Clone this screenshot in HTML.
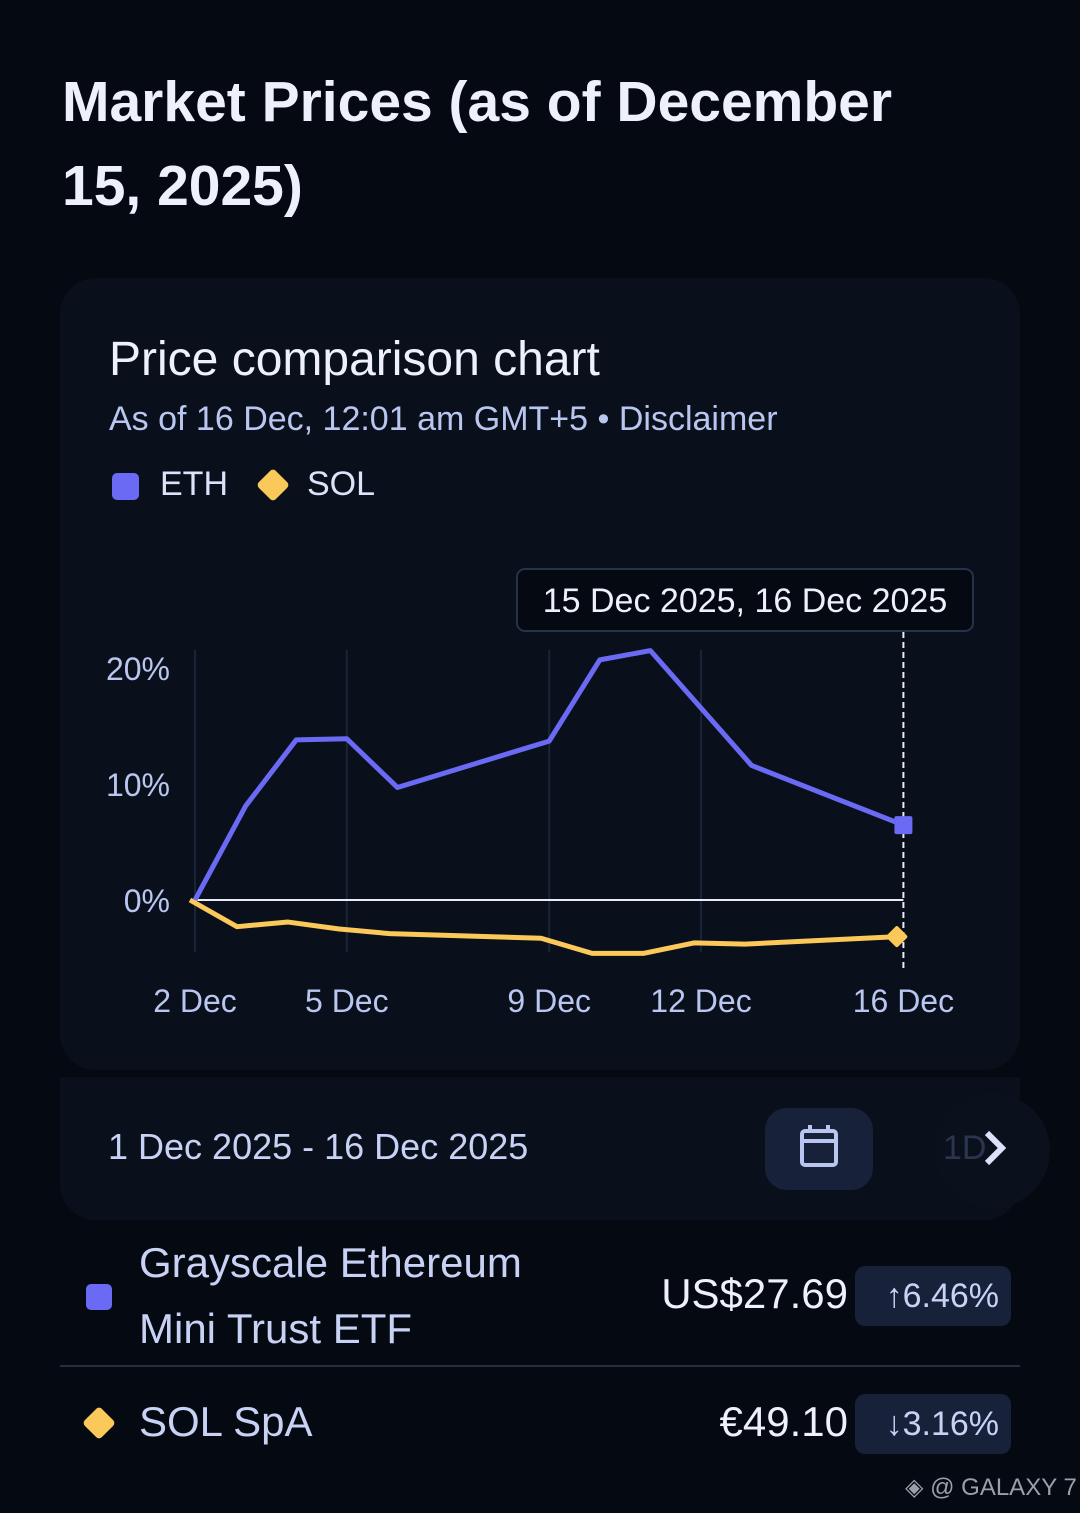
<!DOCTYPE html>
<html><head><meta charset="utf-8"><style>
body{margin:0;width:1080px;height:1513px;background:#050911;font-family:"Liberation Sans",sans-serif;color:#c7d2f5;position:relative;overflow:hidden}
.abs{position:absolute}
h1{position:absolute;left:62px;top:60px;margin:0;font-size:57px;line-height:84px;font-weight:bold;color:#eef1fb;width:890px}
.card{left:60px;top:278px;width:960px;height:792px;background:#0a101b;border-radius:36px}
.bar{left:60px;top:1077px;width:960px;height:143px;background:#0a101b;border-radius:0 0 36px 36px}
.badge{background:#17223a;border-radius:10px;color:#c7d2f5;font-size:34px;height:60px;line-height:60px;padding:0 12px;box-sizing:border-box;width:156px;text-align:right}
</style></head><body>
<h1>Market Prices (as of December 15, 2025)</h1>
<div class="abs card"></div>
<div class="abs" style="left:109px;top:332px;font-size:48px;color:#eef1fb">Price comparison chart</div>
<div class="abs" style="left:109px;top:400px;font-size:34px;color:#b9c6f0">As of 16 Dec, 12:01 am GMT+5 • Disclaimer</div>
<div class="abs" style="left:112px;top:473px;width:27px;height:27px;background:#6a6af5;border-radius:5px"></div>
<div class="abs" style="left:160px;top:465px;font-size:34px;color:#dbe3fa">ETH</div>
<div class="abs" style="left:261px;top:473px;width:24px;height:24px;background:#fbc85a;transform:rotate(45deg);border-radius:4px"></div>
<div class="abs" style="left:307px;top:465px;font-size:34px;color:#dbe3fa">SOL</div>
<svg class="abs" style="left:0;top:0" width="1080" height="1513" id="chart"></svg>
<div class="abs bar"></div>
<div class="abs" style="left:108px;top:1126px;font-size:36px;color:#c7d2f5">1 Dec 2025 - 16 Dec 2025</div>
<div class="abs" style="left:765px;top:1108px;width:108px;height:82px;background:#17223a;border-radius:22px">
<svg width="108" height="82"><rect x="37" y="23" width="34" height="34" rx="3" fill="none" stroke="#b9c6f0" stroke-width="4"/><line x1="37" y1="33" x2="71" y2="33" stroke="#b9c6f0" stroke-width="4"/><line x1="45" y1="17" x2="45" y2="25" stroke="#b9c6f0" stroke-width="4"/><line x1="63" y1="17" x2="63" y2="25" stroke="#b9c6f0" stroke-width="4"/></svg></div>
<div class="abs" style="left:935px;top:1093px;width:115px;height:115px;background:#0b111c;border-radius:50%">
<span class="abs" style="left:8px;top:36px;font-size:34px;color:#2a3550">1D</span>
<svg class="abs" style="left:45px;top:35px" width="30" height="40"><polyline points="7,5 22,20 7,35" fill="none" stroke="#dbe3fa" stroke-width="6"/></svg></div>
<div class="abs" style="left:86px;top:1284px;width:26px;height:26px;background:#6a6af5;border-radius:5px"></div>
<div class="abs" style="left:139px;top:1230px;font-size:42px;line-height:66px;color:#c7d2f5">Grayscale Ethereum<br>Mini Trust ETF</div>
<div class="abs" style="left:640px;top:1270px;width:208px;text-align:right;font-size:42px;color:#eef1fb">US$27.69</div>
<div class="abs badge" style="left:855px;top:1266px">↑6.46%</div>
<div class="abs" style="left:60px;top:1365px;width:960px;height:2px;background:#243040"></div>
<div class="abs" style="left:87px;top:1411px;width:24px;height:24px;background:#fbc85a;transform:rotate(45deg);border-radius:4px"></div>
<div class="abs" style="left:139px;top:1398px;font-size:42px;color:#c7d2f5">SOL SpA</div>
<div class="abs" style="left:640px;top:1398px;width:208px;text-align:right;font-size:42px;color:#eef1fb">€49.10</div>
<div class="abs badge" style="left:855px;top:1394px">↓3.16%</div>
<div class="abs" style="left:905px;top:1473px;font-size:24px;color:#9aa0aa">◈ @ GALAXY 7</div>
<script>
const ethDays=[2,3,4,5,6,9,10,11,13,16];
const ethVals=[0,8.1,13.8,13.9,9.7,13.7,20.7,21.5,11.6,6.46];
const solDays=[1.9,2.83,3.84,4.85,5.85,8.84,9.85,10.87,11.86,12.87,15.87];
const solVals=[0,-2.3,-1.9,-2.5,-2.9,-3.3,-4.6,-4.6,-3.7,-3.8,-3.16];
const yTicks=[0,10,20];
const xTicks=[2,5,9,12,16];
const xLabels=["2 Dec","5 Dec","9 Dec","12 Dec","16 Dec"];
const X=d=>195+(d-2)*50.6, Y=v=>900-v*11.6;
const svg=document.getElementById('chart'),NS="http://www.w3.org/2000/svg";
function mk(t,a){const e=document.createElementNS(NS,t);for(const k in a)e.setAttribute(k,a[k]);svg.appendChild(e);return e;}
xTicks.forEach((d,i)=>{
 if(i<4){const g=mk('line',{x1:X(d),x2:X(d),y1:650,y2:952,stroke:'#1a2438','stroke-width':2});
 
 }
 const t=mk('text',{x:X(d),y:1012,'text-anchor':'middle','font-size':32,fill:'#b9c6f0','font-family':'Liberation Sans'});t.textContent=xLabels[i];
 
 
});
yTicks.forEach(v=>{const t=mk('text',{x:170,y:Y(v)+12,'text-anchor':'end','font-size':32,fill:'#b9c6f0','font-family':'Liberation Sans'});t.textContent=v+'%';
 
 });
const z=mk('line',{x1:X(2),x2:X(16),y1:Y(0),y2:Y(0),stroke:'#e8ecf8','stroke-width':2});


const cur=mk('line',{x1:X(16),x2:X(16),y1:632,y2:970,stroke:'#e8ecf8','stroke-width':2,'stroke-dasharray':'6,4'});


const e=mk('polyline',{points:ethDays.map((d,i)=>X(d)+','+Y(ethVals[i])).join(' '),fill:'none',stroke:'#6a6af5','stroke-width':5,'stroke-linejoin':'round'});


const s=mk('polyline',{points:solDays.map((d,i)=>X(d)+','+Y(solVals[i])).join(' '),fill:'none',stroke:'#fbc85a','stroke-width':5,'stroke-linejoin':'round'});


const ex=X(ethDays[ethDays.length-1]),ey=Y(ethVals[ethVals.length-1]);
const em=mk('rect',{x:ex-9,y:ey-9,width:18,height:18,rx:2,fill:'#6a6af5'});


const sx=X(solDays[solDays.length-1]),sy=Y(solVals[solVals.length-1]);
const sm=mk('rect',{x:sx-8,y:sy-8,width:16,height:16,rx:2,fill:'#fbc85a',transform:`rotate(45 ${sx} ${sy})`});


const tb=mk('rect',{x:517,y:569,width:456,height:62,rx:8,fill:'#050911',stroke:'#26324a','stroke-width':2});


const tt=mk('text',{x:745,y:612,'text-anchor':'middle','font-size':34,fill:'#eef1fb','font-family':'Liberation Sans'});tt.textContent='15 Dec 2025, 16 Dec 2025';


</script>
</body></html>
